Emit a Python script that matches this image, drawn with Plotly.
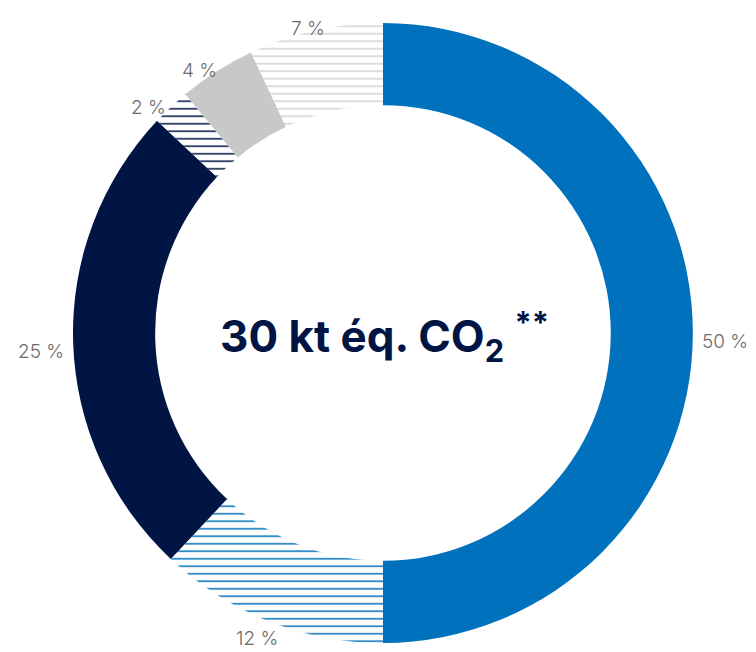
import math
import plotly.graph_objects as go

labels = ["A", "B", "C", "D", "E", "F"]
values = [50, 12, 25, 2, 4, 7]
label_text = ["50 %", "12 %", "25 %", "2 %", "4 %", "7 %"]
colors = ["#0071BC", "#0071BC", "#001544", "#001544", "#C8C8C8", "#D4D4D4"]
hatched = [False, True, False, True, False, True]
center_text = "<b>30 kt éq. CO<sub>2</sub> <sup>**</sup></b>"

W, H = 756, 652
cx, cy, R = 383, 333, 310          # centre / radius in page pixels
ml, mt = cx - R, cy - R
mr, mb = W - (cx + R), H - (cy + R)
S = 2 * R                           # plot-area size


def to_paper(px, py):
    return (px - ml) / S, 1 - (py - mt) / S


fig = go.Figure()
fig.add_trace(go.Pie(
    labels=labels, values=values, sort=False, direction="clockwise", rotation=0,
    hole=0.735, textinfo="none", hoverinfo="skip", showlegend=False,
    marker=dict(
        colors=[("white" if h else c) for c, h in zip(colors, hatched)],
        line=dict(width=0),
        pattern=dict(
            shape=[("-" if h else "") for h in hatched],
            fgcolor=colors,
            bgcolor=[("white" if h else c) for c, h in zip(colors, hatched)],
            size=7.5, solidity=0.2, fillmode="replace",
        ),
    ),
))

# labels placed around the ring at each slice's mid-angle
total = sum(values)
cum = 0
rx, ry, lcy = R + 32, R + 10, cy + 8
for v, t in zip(values, label_text):
    mid = (cum + v / 2) / total * 2 * math.pi
    cum += v
    px = cx + rx * math.sin(mid)
    py = lcy - ry * math.cos(mid)
    x, y = to_paper(px, py)
    fig.add_annotation(
        x=x, y=y, xref="paper", yref="paper",
        text=t, showarrow=False, xanchor="center", yanchor="middle",
        font=dict(family="Inter", size=19, color="#6B6B6B", weight=300),
    )

x, y = to_paper(cx + 2, cy + 3)
fig.add_annotation(
    x=x, y=y, xref="paper", yref="paper",
    text=center_text, showarrow=False, xanchor="center", yanchor="middle",
    font=dict(family="Inter", size=44, color="#001544"),
)

fig.update_layout(
    width=W, height=H,
    margin=dict(l=ml, r=mr, t=mt, b=mb),
    paper_bgcolor="white", plot_bgcolor="white",
)

fig.write_html("out.html", config={"displayModeBar": False},
               post_script="document.body.style.margin='0px';")
